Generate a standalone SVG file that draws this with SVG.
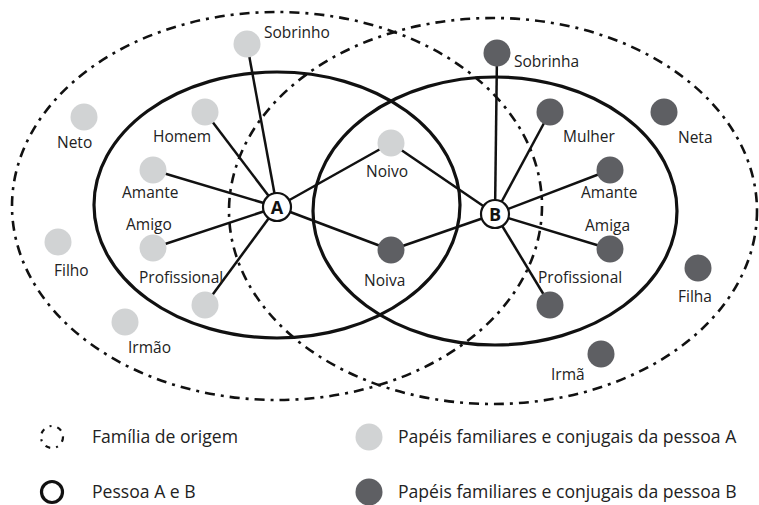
<svg xmlns="http://www.w3.org/2000/svg" width="759" height="505" viewBox="0 0 759 505">
<style>
.fam{fill:none;stroke:#111;stroke-width:2.6;stroke-dasharray:10 6 3 6}
.pes{fill:none;stroke:#111;stroke-width:3.2}
.lnk{stroke:#111;stroke-width:2.5}
.la{fill:#d1d3d4}
.lb{fill:#5e5f63}
.t{font-family:"Open Sans","Noto Sans",sans-serif;font-size:15.5px;fill:#222}
.lg{font-family:"Open Sans","Noto Sans",sans-serif;font-size:17.6px;fill:#222}
.hub{fill:#fff;stroke:#111;stroke-width:2.2}
.hubt{font-family:"Open Sans","Noto Sans",sans-serif;font-size:18px;font-weight:bold;fill:#111;text-anchor:middle}
</style>
<rect width="759" height="505" fill="#fff"/>
<g id="familia-A"><ellipse class="fam" cx="277" cy="206" rx="265" ry="194"/></g>
<g id="familia-B"><ellipse class="fam" cx="493" cy="211" rx="264" ry="193"/></g>
<g id="pessoa-A-ellipse"><ellipse class="pes" cx="277" cy="205" rx="183" ry="133"/></g>
<g id="pessoa-B-ellipse"><ellipse class="pes" cx="495" cy="211" rx="182" ry="134"/></g>
<g id="connectors">
<line class="lnk" x1="277" y1="207" x2="247" y2="44"/>
<line class="lnk" x1="277" y1="207" x2="205" y2="112"/>
<line class="lnk" x1="277" y1="207" x2="153" y2="170"/>
<line class="lnk" x1="277" y1="207" x2="153" y2="248"/>
<line class="lnk" x1="277" y1="207" x2="205" y2="305"/>
<line class="lnk" x1="277" y1="207" x2="391" y2="143"/>
<line class="lnk" x1="277" y1="207" x2="391" y2="250"/>
<line class="lnk" x1="495" y1="214" x2="497" y2="53"/>
<line class="lnk" x1="495" y1="214" x2="550" y2="112"/>
<line class="lnk" x1="495" y1="214" x2="610" y2="170"/>
<line class="lnk" x1="495" y1="214" x2="610" y2="249"/>
<line class="lnk" x1="495" y1="214" x2="550" y2="305"/>
<line class="lnk" x1="495" y1="214" x2="391" y2="143"/>
<line class="lnk" x1="495" y1="214" x2="391" y2="250"/>
</g>
<g id="sobrinho"><circle class="la" cx="247" cy="44" r="13.5"/><text class="t" x="264" y="38">Sobrinho</text></g>
<g id="homem"><circle class="la" cx="205" cy="112" r="13.5"/><text class="t" x="153" y="142">Homem</text></g>
<g id="neto"><circle class="la" cx="84" cy="117" r="13.5"/><text class="t" x="57" y="148">Neto</text></g>
<g id="amante-a"><circle class="la" cx="153" cy="170" r="13.5"/><text class="t" x="122" y="198">Amante</text></g>
<g id="amigo"><circle class="la" cx="153" cy="248" r="13.5"/><text class="t" x="126" y="230">Amigo</text></g>
<g id="filho"><circle class="la" cx="58" cy="242" r="13.5"/><text class="t" x="54" y="276">Filho</text></g>
<g id="profissional-a"><circle class="la" cx="205" cy="305" r="13.5"/><text class="t" x="139" y="283">Profissional</text></g>
<g id="irmao"><circle class="la" cx="125" cy="322" r="13.5"/><text class="t" x="128" y="353">Irmão</text></g>
<g id="noivo"><circle class="la" cx="391" cy="143" r="13.5"/><text class="t" x="366" y="177">Noivo</text></g>
<g id="noiva"><circle class="lb" cx="391" cy="250" r="13.5"/><text class="t" x="364" y="286">Noiva</text></g>
<g id="sobrinha"><circle class="lb" cx="497" cy="53" r="13.5"/><text class="t" x="514" y="67">Sobrinha</text></g>
<g id="mulher"><circle class="lb" cx="550" cy="112" r="13.5"/><text class="t" x="563" y="142">Mulher</text></g>
<g id="neta"><circle class="lb" cx="664" cy="112" r="13.5"/><text class="t" x="678" y="143">Neta</text></g>
<g id="amante-b"><circle class="lb" cx="610" cy="170" r="13.5"/><text class="t" x="581" y="198">Amante</text></g>
<g id="amiga"><circle class="lb" cx="610" cy="249" r="13.5"/><text class="t" x="585" y="231">Amiga</text></g>
<g id="filha"><circle class="lb" cx="698" cy="268" r="13.5"/><text class="t" x="678" y="302">Filha</text></g>
<g id="profissional-b"><circle class="lb" cx="550" cy="305" r="13.5"/><text class="t" x="538" y="283">Profissional</text></g>
<g id="irma"><circle class="lb" cx="601" cy="354" r="13.5"/><text class="t" x="551" y="380">Irmã</text></g>
<g id="A"><circle class="hub" cx="277" cy="207" r="14"/><text class="hubt" x="277" y="213.5">A</text></g>
<g id="B"><circle class="hub" cx="495" cy="214" r="14"/><text class="hubt" x="495" y="220.5">B</text></g>
<g id="legend">
<circle cx="52" cy="437" r="11" fill="none" stroke="#111" stroke-width="2.2" stroke-dasharray="5 6 2 6"/>
<text class="lg" x="92" y="443">Família de origem</text>
<circle cx="52" cy="492" r="10.5" fill="none" stroke="#111" stroke-width="3.2"/>
<text class="lg" x="92" y="498">Pessoa A e B</text>
<circle class="la" cx="369" cy="437" r="13.5"/>
<text class="lg" x="398" y="443">Papéis familiares e conjugais da pessoa A</text>
<circle class="lb" cx="369" cy="492" r="13.5"/>
<text class="lg" x="398" y="498">Papéis familiares e conjugais da pessoa B</text>
</g>
</svg>
